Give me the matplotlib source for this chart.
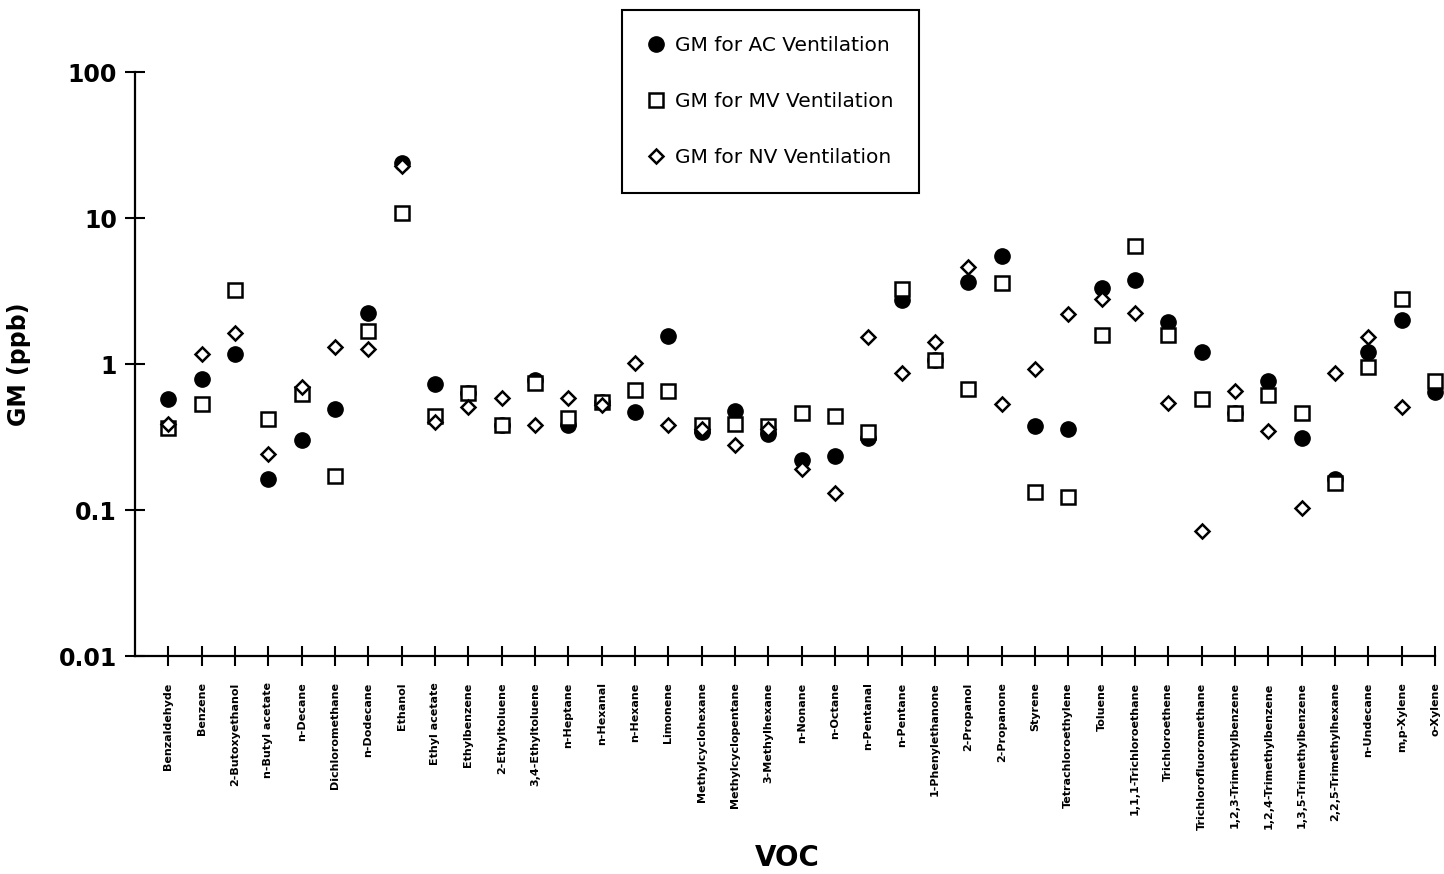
import numpy as np
from matplotlib import pyplot as plt

vocs = ["Benzaldehyde", "Benzene", "2-Butoxyethanol", "n-Butyl acetate", "n-Decane",
        "Dichloromethane", "n-Dodecane", "Ethanol", "Ethyl acetate", "Ethylbenzene",
        "2-Ethyltoluene", "3,4-Ethyltoluene", "n-Heptane", "n-Hexanal", "n-Hexane",
        "Limonene", "Methylcyclohexane", "Methylcyclopentane", "3-Methylhexane", "n-Nonane",
        "n-Octane", "n-Pentanal", "n-Pentane", "1-Phenylethanone", "2-Propanol",
        "2-Propanone", "Styrene", "Tetrachloroethylene", "Toluene", "1,1,1-Trichloroethane",
        "Trichloroethene", "Trichlorofluoromethane", "1,2,3-Trimethylbenzene",
        "1,2,4-Trimethylbenzene", "1,3,5-Trimethylbenzene", "2,2,5-Trimethylhexane",
        "n-Undecane", "m,p-Xylene", "o-Xylene"]

gm_ac = [0.575, 0.79, 1.17, 0.163, 0.30, 0.49, 2.24, 23.8, 0.73, 0.63,
         0.38, 0.78, 0.38, 0.55, 0.47, 1.56, 0.34, 0.48, 0.33, 0.22,
         0.235, 0.31, 2.74, 1.07, 3.64, 5.5, 0.376, 0.36, 3.31, 3.76,
         1.94, 1.21, 0.46, 0.77, 0.31, 0.163, 1.21, 2.0, 0.64]
gm_mv = [0.365, 0.53, 3.2, 0.42, 0.62, 0.171, 1.68, 10.8, 0.44, 0.63,
         0.38, 0.74, 0.43, 0.55, 0.66, 0.65, 0.38, 0.39, 0.376, 0.46,
         0.44, 0.34, 3.26, 1.07, 0.67, 3.59, 0.133, 0.123, 1.58, 6.43,
         1.58, 0.576, 0.46, 0.61, 0.46, 0.153, 0.955, 2.79, 0.77]
gm_nv = [0.39, 1.17, 1.63, 0.242, 0.70, 1.31, 1.27, 22.7, 0.40, 0.51,
         0.585, 0.38, 0.585, 0.52, 1.02, 0.38, 0.36, 0.28, 0.36, 0.19,
         0.13, 1.53, 0.87, 1.42, 4.6, 0.53, 0.92, 2.2, 2.79, 2.24,
         0.54, 0.072, 0.65, 0.35, 0.103, 0.87, 1.53, 0.51, np.nan]

x = np.arange(1, len(vocs) + 1)

fig = plt.figure(figsize=(14.44, 8.74), dpi=100)
ax = fig.add_axes([0.0935, 0.2494, 0.9003, 0.6682])

ax.plot(x, gm_ac, 'o', ms=11, mfc='black', mec='black', ls='none', clip_on=False,
        label="GM for AC Ventilation")
ax.plot(x, gm_mv, 's', ms=10, mfc='white', mec='black', mew=1.8, ls='none', clip_on=False,
        label="GM for MV Ventilation")
ax.plot(x, gm_nv, 'D', ms=7.5, mfc='white', mec='black', mew=1.8, ls='none', clip_on=False,
        label="GM for NV Ventilation")

ax.set_yscale('log')
ax.set_ylim(0.01, 100)
ax.set_xlim(0, len(vocs))
ax.set_yticks([0.01, 0.1, 1, 10, 100])
ax.set_yticklabels(["0.01", "0.1", "1", "10", "100"])
ax.yaxis.set_minor_locator(plt.NullLocator())
ax.set_xticks(x)
ax.set_xticklabels(vocs, rotation=90, fontsize=8, fontweight='bold', va='top')

ax.spines['top'].set_visible(False)
ax.spines['right'].set_visible(False)
ax.spines['left'].set_linewidth(1.6)
ax.spines['bottom'].set_linewidth(1.6)
ax.tick_params(axis='both', direction='inout', length=14, width=1.5)
ax.tick_params(axis='x', pad=12)
ax.tick_params(axis='y', pad=6, labelsize=17)
for t in ax.get_yticklabels():
    t.set_fontweight('bold')

ax.set_ylabel("GM (ppb)", fontsize=17, fontweight='bold', labelpad=20)
ax.set_xlabel("VOC", fontsize=20, fontweight='bold', va='center')
ax.xaxis.set_label_coords(0.5015, -0.346)

leg = fig.legend(loc='upper left', bbox_to_anchor=(0.431, 0.989), fontsize=14.5,
                 frameon=True, fancybox=False, edgecolor='black', framealpha=1,
                 labelspacing=1.85, borderpad=1.3, handlelength=0.7,
                 handletextpad=0.6, borderaxespad=0)
leg.get_frame().set_linewidth(1.5)

plt.savefig("out.png", dpi=100)
